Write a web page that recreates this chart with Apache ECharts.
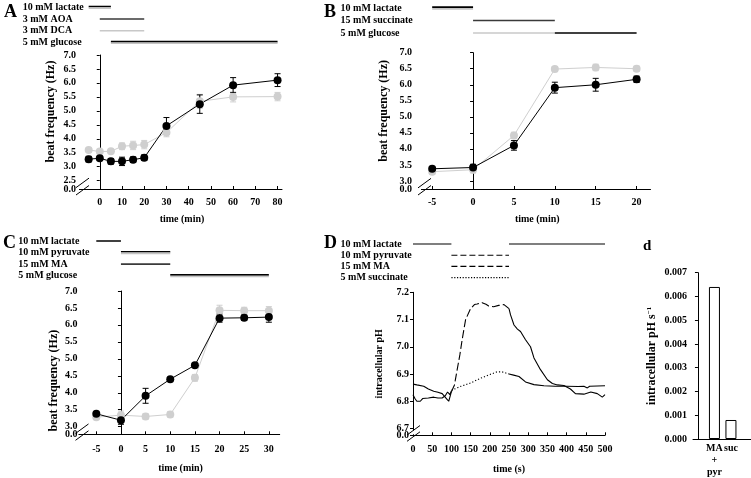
<!DOCTYPE html>
<html><head><meta charset="utf-8">
<script src="https://cdn.jsdelivr.net/npm/echarts@6/dist/echarts.min.js"></script>
<style>html,body{margin:0;padding:0;background:#fff}#c{width:751px;height:478px}</style>
</head><body><div id="c"></div>
<script>
// ---------- Panel A ----------
const timesA = [-5, 0, 5, 10, 15, 20, 30, 45, 60, 80];
const blackA = [3.27, 3.30, 3.19, 3.19, 3.25, 3.32, 4.46, 5.24, 5.92, 6.10];
const blackErrA = [0.10, 0.07, 0.10, 0.15, 0.10, 0.10, 0.30, 0.33, 0.27, 0.23];
const grayA = [3.60, 3.54, 3.55, 3.73, 3.76, 3.79, 4.22, 5.34, 5.50, 5.51];
const grayErrA = [0.06, 0.05, 0.05, 0.12, 0.15, 0.15, 0.15, 0.25, 0.18, 0.15];
const xTicksA = [0, 10, 20, 30, 40, 50, 60, 70, 80];
const yTicksA = [2.5, 3.0, 3.5, 4.0, 4.5, 5.0, 5.5, 6.0, 6.5, 7.0];
const treatNamesA = ['10 mM lactate', '3 mM AOA', '3 mM DCA', '5 mM glucose'];
const treatA = [[0, -5, 5, 'double'], [1, 0, 20, 'dark'], [2, 0, 20, 'light'], [3, 5, 80, 'double']];

// ---------- Panel B ----------
const timesB = [-5, 0, 5, 10, 15, 20];
const blackB = [3.38, 3.42, 4.11, 5.91, 6.00, 6.17];
const blackErrB = [0.06, 0.10, 0.15, 0.17, 0.20, 0.10];
const grayB = [3.29, 3.35, 4.42, 6.49, 6.54, 6.50];
const grayErrB = [0.08, 0.10, 0.10, 0.08, 0.10, 0.08];
const xTicksB = [-5, 0, 5, 10, 15, 20];
const yTicksB = [3.0, 3.5, 4.0, 4.5, 5.0, 5.5, 6.0, 6.5, 7.0];
const treatNamesB = ['10 mM lactate', '15 mM succinate', '5 mM glucose'];
const treatB = [[0, -5, 0, 'double'], [1, 0, 10, 'dark'], [2, 0, 10, 'light'], [2, 10, 20, 'black']];

// ---------- Panel C ----------
const timesC = [-5, 0, 5, 10, 15, 20, 25, 30];
const blackC = [3.38, 3.19, 3.91, 4.40, 4.81, 6.20, 6.21, 6.23];
const blackErrC = [0.05, 0.12, 0.22, 0.05, 0.05, 0.12, 0.08, 0.15];
const grayC = [3.28, 3.34, 3.30, 3.36, 4.44, 6.43, 6.42, 6.42];
const grayErrC = [0.07, 0.12, 0.08, 0.08, 0.10, 0.15, 0.10, 0.12];
const xTicksC = [-5, 0, 5, 10, 15, 20, 25, 30];
const yTicksC = [3.0, 3.5, 4.0, 4.5, 5.0, 5.5, 6.0, 6.5, 7.0];
const treatNamesC = ['10 mM lactate', '10 mM pyruvate', '15 mM MA', '5 mM glucose'];
const treatC = [[0, -5, 0, 'black'], [1, 0, 10, 'double'], [2, 0, 10, 'dark'], [3, 10, 30, 'double']];

// ---------- Panel D (pH traces, time in s) ----------
const maPre = [[0,6.863],[10,6.860],[28,6.855],[40,6.845],[54,6.837],[65,6.833],[76,6.828],[87,6.810],[93,6.800],[97,6.820],[100,6.835]];
const maDash = [[100,6.835],[108,6.860],[115,6.916],[122,6.970],[128,7.026],[137,7.100],[150,7.140],[160,7.155],[167,7.157],[180,7.162],[190,7.156],[197,7.150],[210,7.147],[223,7.152],[237,7.155],[250,7.140]];
const maPost = [[250,7.140],[254,7.117],[263,7.080],[272,7.065],[280,7.056],[293,7.026],[306,7.000],[315,6.959],[332,6.916],[350,6.879],[363,6.865],[376,6.860],[393,6.858],[410,6.845],[423,6.828],[445,6.826],[463,6.834],[480,6.828],[493,6.815],[500,6.824]];
const sucPre = [[0,6.824],[5,6.810],[10,6.800],[19,6.800],[25,6.810],[40,6.812],[54,6.815],[65,6.812],[76,6.812],[84,6.820],[90,6.834],[96,6.824],[100,6.838]];
const sucDot = [[100,6.840],[125,6.855],[150,6.867],[175,6.884],[200,6.898],[219,6.908],[232,6.908],[250,6.900]];
const sucPost = [[250,6.900],[262,6.896],[276,6.891],[293,6.871],[315,6.861],[341,6.857],[370,6.855],[400,6.855],[430,6.854],[445,6.855],[454,6.849],[460,6.855],[480,6.856],[500,6.857]];
const xTicksD = [0, 50, 100, 150, 200, 250, 300, 350, 400, 450, 500];
const yTicksD = [6.7, 6.8, 6.9, 7.0, 7.1, 7.2];
const treatNamesD = ['10 mM lactate', '10 mM pyruvate', '15 mM MA', '5 mM succinate'];
const treatD = [[0, 0, 100, 'solid'], [0, 250, 500, 'solid'], [1, 100, 250, 'dashed'], [2, 100, 250, 'dashed'], [3, 100, 250, 'dotted']];

// ---------- Panel d (bars) ----------
const categoriesd = ['MA\n+\npyr', 'suc'];
const valuesd = [0.0064, 0.0008];
const yTicksd = [0, 0.001, 0.002, 0.003, 0.004, 0.005, 0.006, 0.007];

// label shown at the foot of each broken axis
const brokenAxisZeroLabel = '0.0';

// ================= build =================
const FONT = 'Liberation Serif';
const T = {fontFamily: FONT, fontWeight: 'bold', color: '#000', fontSize: 10};
const BLACK = '#000', GRAY = '#cfcfcf';

const grids = [], xAxes = [], yAxes = [], series = [], zeroAxes = [];

function addMain(cfg) {
  const gi = grids.length;
  grids.push({left: cfg.left, top: cfg.top, width: cfg.width, height: cfg.height});
  xAxes.push({
    gridIndex: gi, type: 'value', min: cfg.xmin, max: cfg.xmax,
    axisLine: {lineStyle: {color: BLACK, width: 1}},
    axisTick: {inside: true, length: 3, customValues: cfg.xticks, lineStyle: {color: BLACK}},
    axisLabel: Object.assign({customValues: cfg.xticks, margin: cfg.xlm, hideOverlap: false}, T),
    splitLine: {show: false},
    name: cfg.xname, nameLocation: 'middle', nameGap: cfg.xng,
    nameTextStyle: Object.assign({}, T, {fontSize: 10})
  });
  yAxes.push({
    gridIndex: gi, type: 'value', min: cfg.ymin, max: cfg.ymax,
    axisLine: {show: true, lineStyle: {color: BLACK, width: 1}},
    axisTick: {show: true, length: 3, customValues: cfg.yticks, lineStyle: {color: BLACK}},
    axisLabel: Object.assign({customValues: cfg.yticks, margin: cfg.ylm, showMinLabel: true, showMaxLabel: true,
      formatter: v => v.toFixed(1)}, T),
    splitLine: {show: false},
    name: cfg.yname, nameLocation: 'middle', nameGap: cfg.yng,
    nameTextStyle: Object.assign({}, T, {fontSize: cfg.yfs || 12, padding: cfg.ypad || [0, 0, 0, 0]})
  });
  // extra axis in the same grid only carrying the "0.0" label at the foot of the broken axis
  zeroAxes.push({
    gridIndex: gi, type: 'value', position: 'left', min: cfg.ymin, max: cfg.ymax,
    axisLine: {show: false}, splitLine: {show: false},
    axisTick: {show: true, length: 3, customValues: [cfg.ymin], lineStyle: {color: BLACK}},
    axisLabel: Object.assign({customValues: [cfg.ymin], margin: cfg.ylm, showMinLabel: true,
      formatter: () => brokenAxisZeroLabel}, T)
  });
  return gi;
}

function addTreat(cfg, names, rows) {
  const gi = grids.length;
  grids.push({left: cfg.left, top: cfg.ttop, width: cfg.width, height: cfg.theight});
  xAxes.push({gridIndex: gi, type: 'value', min: cfg.xmin, max: cfg.xmax, show: false});
  yAxes.push({
    gridIndex: gi, type: 'value', inverse: true, min: 0, max: names.length,
    axisLine: {show: false}, axisTick: {show: false}, splitLine: {show: false},
    axisLabel: Object.assign({customValues: names.map((n, i) => i + 0.5), align: 'left', margin: cfg.tlm,
      formatter: v => names[Math.floor(v)]}, T)
  });
  const styles = {
    dark: [['#3a3a3a', 0, 'solid']], light: [['#c8c8c8', 0, 'solid']], black: [['#000', 0, 'solid']],
    double: [['#000', -0.07, 'solid'], ['#c4c4c4', 0.07, 'solid']],
    solid: [['#000', 0, 'solid']], dashed: [['#000', 0, [6, 3]]], dotted: [['#000', 0, [1.2, 1.6]]]
  };
  rows.forEach(r => {
    styles[r[3]].forEach(s => {
      series.push({
        type: 'line', xAxisIndex: gi, yAxisIndex: gi, symbol: 'none', silent: true, clip: false,
        data: [[r[1], r[0] + 0.5 + s[1]], [r[2], r[0] + 0.5 + s[1]]],
        lineStyle: {color: s[0], width: r[3] === 'dotted' || r[3] === 'dashed' || r[3] === 'solid' ? 1.2 : 1.6, type: s[2]}
      });
    });
  });
}

function errSeries(gi, times, vals, errs, color) {
  return {
    type: 'custom', xAxisIndex: gi, yAxisIndex: gi, silent: true,
    data: times.map((t, i) => [t, vals[i] - errs[i], vals[i] + errs[i]]),
    encode: {x: 0, y: [1, 2]},
    renderItem: (params, api) => {
      const a = api.coord([api.value(0), api.value(1)]);
      const b = api.coord([api.value(0), api.value(2)]);
      const w = 3, st = {stroke: color, lineWidth: 1};
      return {type: 'group', children: [
        {type: 'line', shape: {x1: a[0], y1: a[1], x2: b[0], y2: b[1]}, style: st},
        {type: 'line', shape: {x1: a[0] - w, y1: a[1], x2: a[0] + w, y2: a[1]}, style: st},
        {type: 'line', shape: {x1: b[0] - w, y1: b[1], x2: b[0] + w, y2: b[1]}, style: st}
      ]};
    }
  };
}
function lineSeries(gi, times, vals, color) {
  return {
    type: 'line', xAxisIndex: gi, yAxisIndex: gi, symbol: 'circle', symbolSize: 8, silent: true,
    data: times.map((t, i) => [t, vals[i]]),
    lineStyle: {color: color, width: 1}, itemStyle: {color: color, borderWidth: 0}
  };
}

const cfgA = {left: 82, top: 55, width: 200, height: 134, xmin: -8, xmax: 82, xticks: xTicksA, ymin: 2.2, ymax: 7.0, yticks: yTicksA,
  xname: 'time (min)', xng: 25, xlm: 8, yname: 'beat frequency (Hz)', yng: 25, ylm: 6, ypad: [0, 0, 0, 21],
  ttop: 1.5, theight: 46.8, tlm: 59.3};
const cfgB = {left: 424, top: 52.7, width: 226.5, height: 136.3, xmin: -6, xmax: 21.7, xticks: xTicksB, ymin: 2.75, ymax: 7.0, yticks: yTicksB,
  xname: 'time (min)', xng: 25, xlm: 8, yname: 'beat frequency (Hz)', yng: 34, ylm: 12, ypad: [0, 0, 0, 20],
  ttop: 1.75, theight: 37.5, tlm: 83.4};
const cfgC = {left: 81.5, top: 291, width: 198.2, height: 143.3, xmin: -8, xmax: 32.2, xticks: xTicksC, ymin: 2.775, ymax: 7.0, yticks: yTicksC,
  xname: 'time (min)', xng: 29, xlm: 10, yname: 'beat frequency (Hz)', yng: 22, ylm: 4, ypad: [0, 36, 0, 0],
  ttop: 235.2, theight: 46.3, tlm: 63.2};
const cfgD = {left: 413, top: 292.3, width: 192, height: 143, xmin: 0, xmax: 500, xticks: xTicksD, ymin: 6.675, ymax: 7.2, yticks: yTicksD,
  xname: 'time (s)', xng: 29, xlm: 9, yname: 'intracellular pH', yng: 29, ylm: 4, yfs: 10,
  ttop: 238.4, theight: 44.9, tlm: 72.4};

const gA = addMain(cfgA); addTreat(cfgA, treatNamesA, treatA);
series.push(errSeries(gA, timesA, grayA, grayErrA, GRAY), lineSeries(gA, timesA, grayA, GRAY),
            errSeries(gA, timesA, blackA, blackErrA, BLACK), lineSeries(gA, timesA, blackA, BLACK));
const gB = addMain(cfgB); addTreat(cfgB, treatNamesB, treatB);
series.push(errSeries(gB, timesB, grayB, grayErrB, GRAY), lineSeries(gB, timesB, grayB, GRAY),
            errSeries(gB, timesB, blackB, blackErrB, BLACK), lineSeries(gB, timesB, blackB, BLACK));
const gC = addMain(cfgC); addTreat(cfgC, treatNamesC, treatC);
series.push(errSeries(gC, timesC, grayC, grayErrC, GRAY), lineSeries(gC, timesC, grayC, GRAY),
            errSeries(gC, timesC, blackC, blackErrC, BLACK), lineSeries(gC, timesC, blackC, BLACK));
const gD = addMain(cfgD); addTreat(cfgD, treatNamesD, treatD);
function trace(data, type) {
  return {type: 'line', xAxisIndex: gD, yAxisIndex: gD, symbol: 'none', silent: true, data: data,
    lineStyle: {color: BLACK, width: 1.1, type: type}};
}
series.push(trace(maPre, 'solid'), trace(maDash, [8, 3]), trace(maPost, 'solid'),
            trace(sucPre, 'solid'), trace(sucDot, [1.2, 2]), trace(sucPost, 'solid'));

// panel d
const gd = grids.length;
grids.push({left: 693, top: 272.7, width: 57.75, height: 166.6});
xAxes.push({gridIndex: gd, type: 'value', min: -0.3, max: 3.2,
  axisLine: {lineStyle: {color: BLACK}}, axisTick: {show: false}, splitLine: {show: false},
  axisLabel: Object.assign({customValues: [1, 2], margin: 3, lineHeight: 12,
    formatter: v => categoriesd[Math.round(v) - 1]}, T)});
yAxes.push({gridIndex: gd, type: 'value', min: 0, max: 0.007,
  axisLine: {show: true, lineStyle: {color: BLACK}},
  axisTick: {show: true, length: 3, customValues: yTicksd, lineStyle: {color: BLACK}},
  axisLabel: Object.assign({customValues: yTicksd, margin: 6, showMinLabel: true, formatter: v => v.toFixed(3)}, T),
  splitLine: {show: false},
  name: '{a|intracellular pH s}{b|\u22121}', nameLocation: 'middle', nameGap: 35,
  nameTextStyle: {rich: {a: Object.assign({}, T, {fontSize: 12}), b: Object.assign({}, T, {fontSize: 7, verticalAlign: 'top', padding: [0, 0, 5, 0]})}}});
series.push({type: 'bar', xAxisIndex: gd, yAxisIndex: gd, barWidth: 11, silent: true,
  data: categoriesd.map((c, i) => [i + 1, valuesd[i]]),
  itemStyle: {color: '#fff', borderColor: BLACK, borderWidth: 1}});

const letterStyle = {fontFamily: FONT, fontWeight: 'bold', fontSize: 18, color: '#000'};
const titles = [
  {text: 'A', left: 4, top: 3}, {text: 'B', left: 324, top: 3},
  {text: 'C', left: 3, top: 234}, {text: 'D', left: 324, top: 234},
  {text: 'd', left: 643, top: 239, fs: 15}
].map(t => ({text: t.text, left: t.left, top: t.top, padding: 0,
  textStyle: Object.assign({}, letterStyle, t.fs ? {fontSize: t.fs} : {})}));

const chart = echarts.init(document.getElementById('c'), null, {renderer: 'canvas'});
chart.setOption({animation: false, backgroundColor: '#fff', title: titles,
  grid: grids, xAxis: xAxes, yAxis: yAxes.concat(zeroAxes), series: series});

// axis break marks
function breakMarks(gi, cfg) {
  const low = chart.convertToPixel({gridIndex: gi}, [cfg.xmin, cfg.yticks[0]]);
  const bot = chart.convertToPixel({gridIndex: gi}, [cfg.xmin, cfg.ymin]);
  const ax = low[0];
  const y1 = low[1] + (bot[1] - low[1]) * 0.3;
  const y2 = bot[1] + 1.5;
  const st = {stroke: '#000', lineWidth: 1};
  return [
    {type: 'rect', shape: {x: ax - 2, y: y1, width: 4, height: bot[1] - y1 - 1}, style: {fill: '#fff'}, z: 100},
    {type: 'line', shape: {x1: ax - 6, y1: y1 + 4.5, x2: ax + 7, y2: y1 - 5}, style: st, z: 101},
    {type: 'line', shape: {x1: ax - 6, y1: y2 + 4.5, x2: ax + 7, y2: y2 - 5}, style: st, z: 101}
  ];
}
chart.setOption({graphic: {elements: [].concat(breakMarks(gA, cfgA), breakMarks(gB, cfgB), breakMarks(gC, cfgC), breakMarks(gD, cfgD))}});
</script>
</body></html>
